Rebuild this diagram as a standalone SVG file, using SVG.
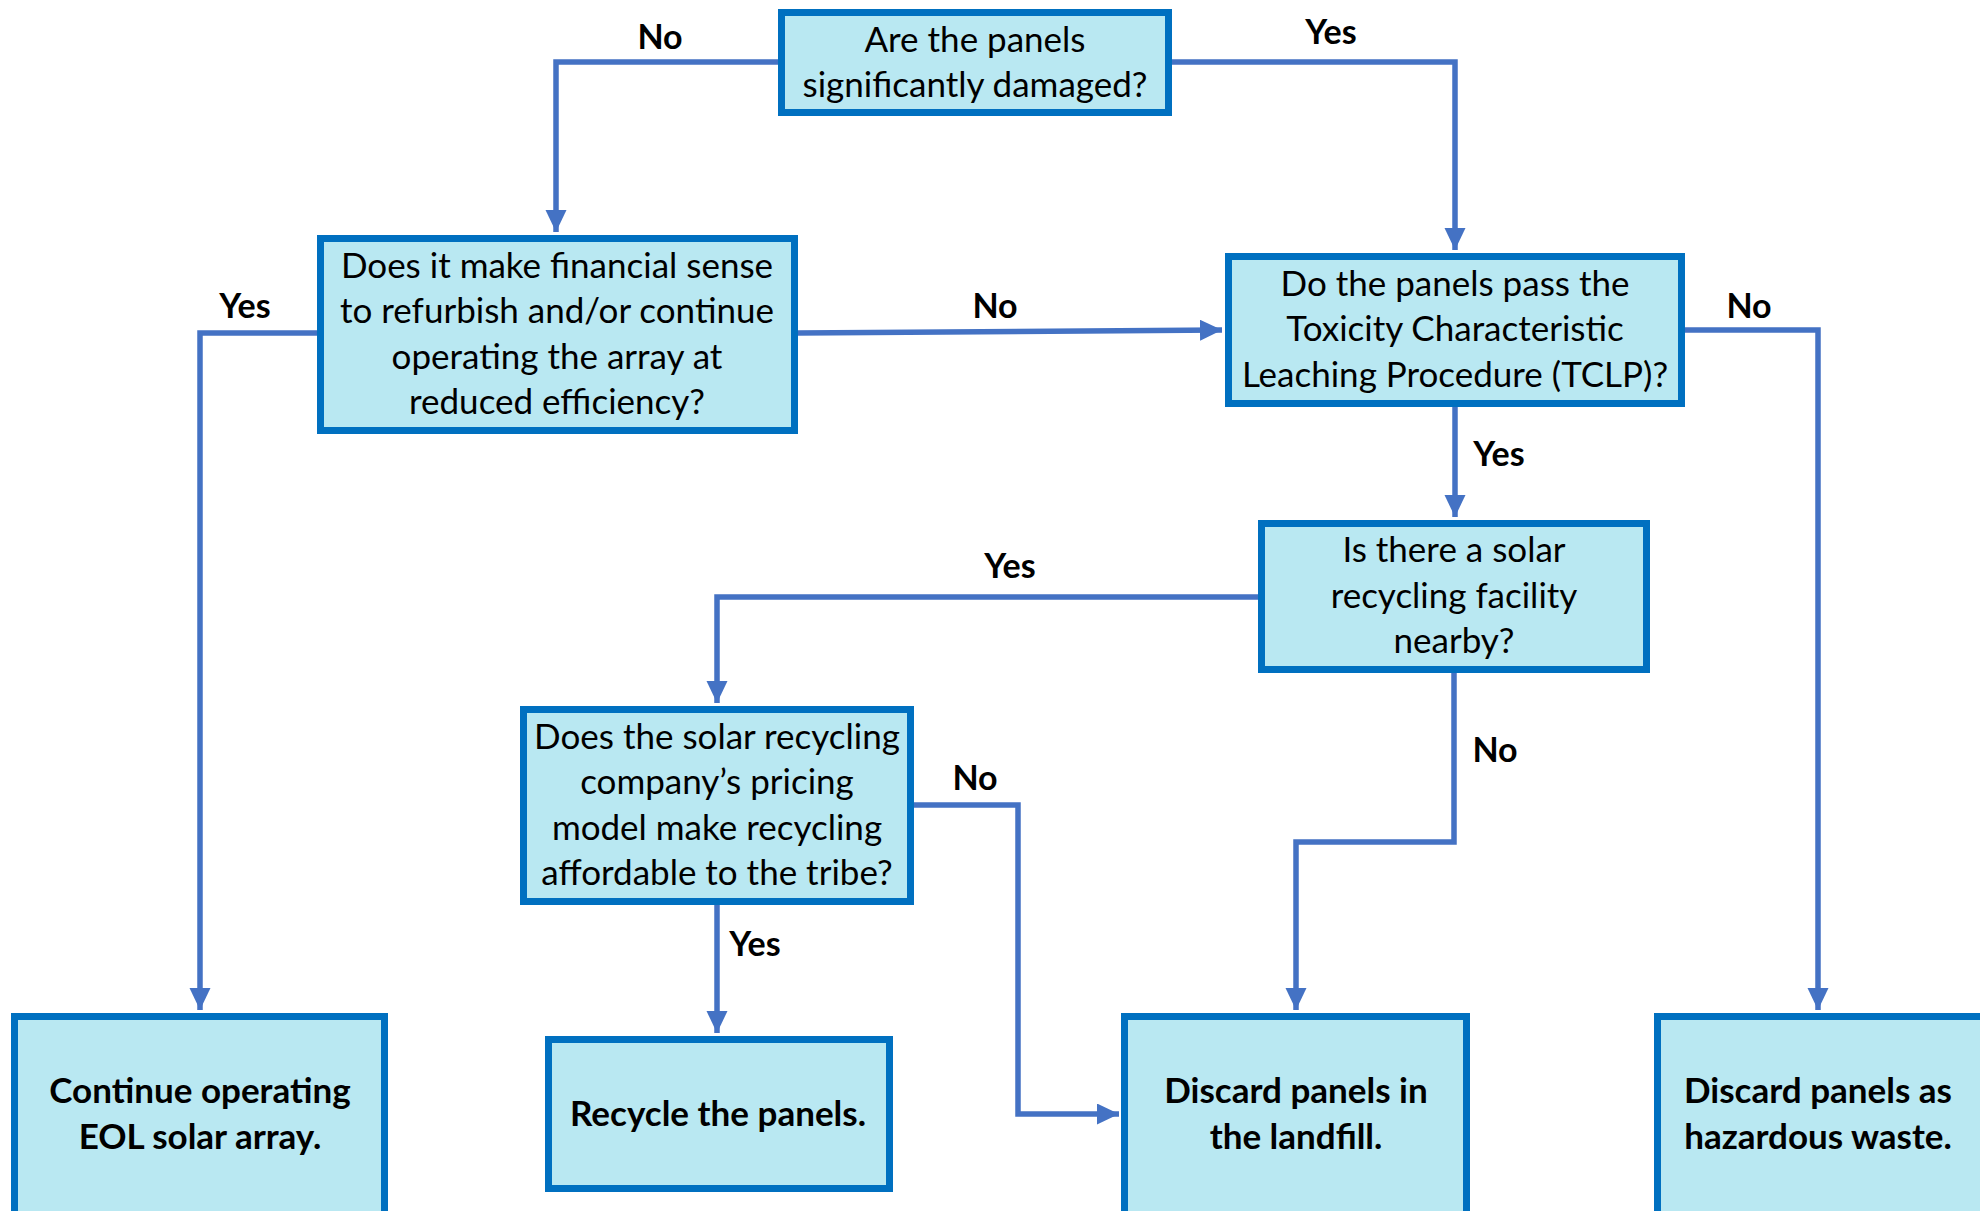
<svg xmlns="http://www.w3.org/2000/svg" width="1980" height="1211" viewBox="0 0 1980 1211">
<style>
.box{fill:#B9E8F2;stroke:#0070C0;stroke-width:7}
.q{font-family:Lato,"Open Sans",sans-serif;font-size:35px;fill:#000;text-anchor:middle}
.t{font-family:Lato,"Open Sans",sans-serif;font-size:35px;font-weight:bold;fill:#000;text-anchor:middle}
.lbl{font-family:Lato,"Open Sans",sans-serif;font-size:34px;font-weight:bold;fill:#000;text-anchor:middle}
.c{fill:none;stroke:#4472C4;stroke-width:5.5;marker-end:url(#ah)}
</style>
<defs>
<marker id="ah" markerUnits="userSpaceOnUse" markerWidth="24" markerHeight="22" refX="22" refY="10.5" orient="auto">
<path d="M0,0 L22,10.5 L0,21 z" fill="#4472C4"/>
</marker>
</defs>
<rect width="1980" height="1211" fill="#fff"/>
<g id="connectors">
<path class="c" d="M778,62 H556 V232"/>
<path class="c" d="M1172,62 H1455 V250"/>
<path class="c" d="M317,333 H200 V1010"/>
<path class="c" d="M798,333 L1222,330"/>
<path class="c" d="M1685,330 H1818 V1010"/>
<path class="c" d="M1455,407 V517"/>
<path class="c" d="M1258,597 H717 V703"/>
<path class="c" d="M1454,673 V842 H1296 V1010"/>
<path class="c" d="M914,805 H1018 V1114 H1119"/>
<path class="c" d="M717,905 V1033"/>
<text class="lbl" x="660" y="49">No</text>
<text class="lbl" x="1331" y="44">Yes</text>
<text class="lbl" x="245" y="318">Yes</text>
<text class="lbl" x="995" y="318">No</text>
<text class="lbl" x="1749" y="318">No</text>
<text class="lbl" x="1499" y="466">Yes</text>
<text class="lbl" x="1010" y="578">Yes</text>
<text class="lbl" x="1495" y="762">No</text>
<text class="lbl" x="975" y="790">No</text>
<text class="lbl" x="755" y="956">Yes</text>
</g>
<g id="n1">
<rect class="box" x="781.5" y="12.5" width="387" height="100"/>
<text class="q" x="975"><tspan x="975" y="52">Are the panels</tspan><tspan x="975" y="97">significantly damaged?</tspan></text>
</g>
<g id="n2">
<rect class="box" x="320.5" y="238.5" width="474" height="192"/>
<text class="q"><tspan x="557" y="278">Does it make financial sense</tspan><tspan x="557" y="323">to refurbish and/or continue</tspan><tspan x="557" y="369">operating the array at</tspan><tspan x="557" y="414">reduced efficiency?</tspan></text>
</g>
<g id="n3">
<rect class="box" x="1228.5" y="256.5" width="453" height="147"/>
<text class="q"><tspan x="1455" y="296">Do the panels pass the</tspan><tspan x="1455" y="341">Toxicity Characteristic</tspan><tspan x="1455" y="387">Leaching Procedure (TCLP)?</tspan></text>
</g>
<g id="n4">
<rect class="box" x="1261.5" y="523.5" width="385" height="146"/>
<text class="q"><tspan x="1454" y="562">Is there a solar</tspan><tspan x="1454" y="608">recycling facility</tspan><tspan x="1454" y="653">nearby?</tspan></text>
</g>
<g id="n5">
<rect class="box" x="523.5" y="709.5" width="387" height="192"/>
<text class="q"><tspan x="717" y="749">Does the solar recycling</tspan><tspan x="717" y="794">company’s pricing</tspan><tspan x="717" y="840">model make recycling</tspan><tspan x="717" y="885">affordable to the tribe?</tspan></text>
</g>
<g id="n6">
<rect class="box" x="14.5" y="1016.5" width="370" height="210"/>
<text class="t"><tspan x="200" y="1103">Continue operating</tspan><tspan x="200" y="1149">EOL solar array.</tspan></text>
</g>
<g id="n7">
<rect class="box" x="548.5" y="1039.5" width="341" height="149"/>
<text class="t" x="718" y="1126">Recycle the panels.</text>
</g>
<g id="n8">
<rect class="box" x="1124.5" y="1016.5" width="342" height="210"/>
<text class="t"><tspan x="1296" y="1103">Discard panels in</tspan><tspan x="1296" y="1149">the landfill.</tspan></text>
</g>
<g id="n9">
<rect class="box" x="1657.5" y="1016.5" width="340" height="210"/>
<text class="t"><tspan x="1818" y="1103">Discard panels as</tspan><tspan x="1818" y="1149">hazardous waste.</tspan></text>
</g>
</svg>
